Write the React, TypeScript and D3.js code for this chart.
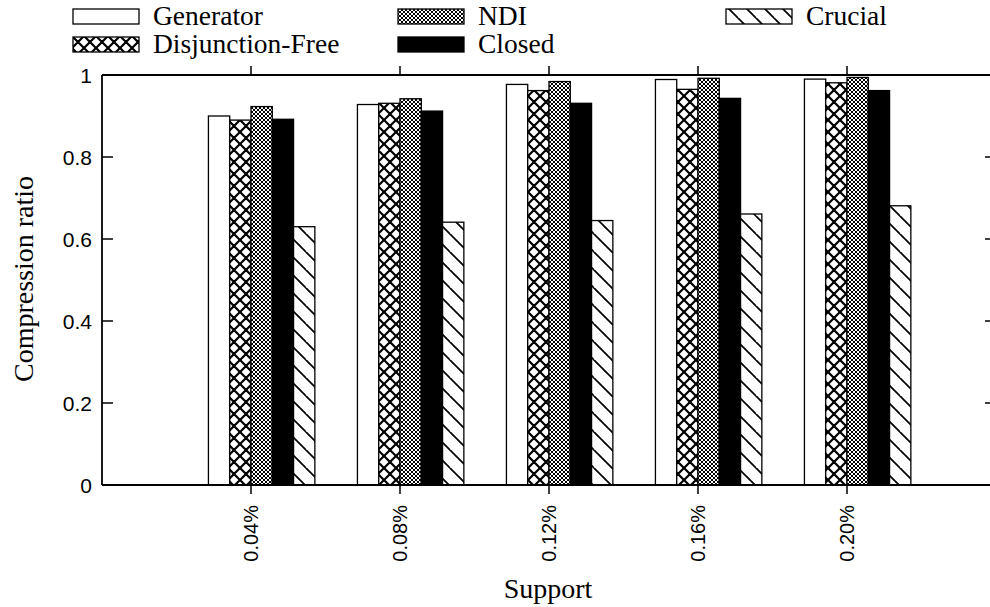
import React from "react";
import * as d3 from "d3";

const categories = ["0.04%", "0.08%", "0.12%", "0.16%", "0.20%"];
const seriesNames = ["Generator", "Disjunction-Free", "NDI", "Closed", "Crucial"];
const generator = [0.9, 0.928, 0.977, 0.989, 0.99];
const disjunctionFree = [0.89, 0.931, 0.962, 0.965, 0.981];
const ndi = [0.923, 0.942, 0.984, 0.992, 0.994];
const closed = [0.892, 0.912, 0.931, 0.943, 0.962];
const crucial = [0.63, 0.641, 0.645, 0.661, 0.681];
const yTicks = [0, 0.2, 0.4, 0.6, 0.8, 1];
const yTickLabels = ["0", "0.2", "0.4", "0.6", "0.8", "1"];

const seriesValues = [generator, disjunctionFree, ndi, closed, crucial];
const fills = ["#ffffff", "url(#pDF)", "url(#pNDI)", "#000000", "url(#pCru)"];

const W = 990;
const H = 607;
const x = d3.scaleLinear().domain([-1, 5]).range([102, 996]);
const y = d3.scaleLinear().domain([0, 1]).range([485, 75]);
const barW = 1 / 7;

const serif = "'Liberation Serif', 'Times New Roman', serif";
const sans = "'Liberation Sans', Arial, sans-serif";

const legendItems = [
  { i: 0, sx: 73, ty: 25 },
  { i: 2, sx: 398, ty: 25 },
  { i: 4, sx: 726, ty: 25 },
  { i: 1, sx: 73, ty: 53 },
  { i: 3, sx: 398, ty: 53 },
];

export default function App() {
  const left = x(-1);
  const right = x(5);
  return (
    <svg
      width={W}
      height={H}
      style={{ position: "absolute", left: 0, top: 0, background: "#fff" }}
    >
      <defs>
        <pattern id="pDF" patternUnits="userSpaceOnUse" width={12} height={12}>
          <rect width={12} height={12} fill="#fff" />
          <path d="M0,0L12,12M12,0L0,12M-6,6L0,12M6,-6L18,6M-6,6L6,-6M6,18L18,6" stroke="#000" strokeWidth={2.2} />
        </pattern>
        <pattern id="pNDI" patternUnits="userSpaceOnUse" width={4} height={4}>
          <rect width={4} height={4} fill="#fff" />
          <path d="M0,0L4,4M4,0L0,4" stroke="#000" strokeWidth={1} />
        </pattern>
        <pattern id="pCru" patternUnits="userSpaceOnUse" width={18} height={18}>
          <rect width={18} height={18} fill="#fff" />
          <path d="M0,0L18,18M-9,9L0,18M9,-9L27,9" stroke="#000" strokeWidth={1.7} />
        </pattern>
      </defs>

      {/* bars */}
      {seriesValues.map((vals, j) =>
        vals.map((v, i) => {
          const x0 = x(i + (j - 2) * barW);
          const x1 = x(i + (j - 1) * barW);
          return (
            <rect
              key={`b-${j}-${i}`}
              x={x0}
              y={y(v)}
              width={x1 - x0}
              height={y(0) - y(v)}
              fill={fills[j]}
              stroke="#000"
              strokeWidth={1.3}
            />
          );
        })
      )}

      {/* frame */}
      <line x1={left} x2={left} y1={y(1)} y2={y(0)} stroke="#000" strokeWidth={1.8} />
      <line x1={left} x2={right} y1={y(0)} y2={y(0)} stroke="#000" strokeWidth={1.8} />
      <line x1={left} x2={right} y1={y(1)} y2={y(1)} stroke="#000" strokeWidth={1.8} />
      <line x1={right} x2={right} y1={y(1)} y2={y(0)} stroke="#000" strokeWidth={1.8} />

      {/* y ticks */}
      {yTicks.map((t, k) => (
        <g key={`yt-${k}`}>
          <line x1={left} x2={left + 11} y1={y(t)} y2={y(t)} stroke="#000" strokeWidth={1.5} />
          <line x1={right - 11} x2={right} y1={y(t)} y2={y(t)} stroke="#000" strokeWidth={1.5} />
          <text
            x={left - 10}
            y={y(t)}
            dy="0.36em"
            textAnchor="end"
            fontFamily={sans}
            fontSize={21}
          >
            {yTickLabels[k]}
          </text>
        </g>
      ))}

      {/* x ticks */}
      {categories.map((c, i) => (
        <g key={`xt-${i}`}>
          <line x1={x(i)} x2={x(i)} y1={y(0)} y2={y(0) + 9} stroke="#000" strokeWidth={1.5} />
          <line x1={x(i)} x2={x(i)} y1={y(1)} y2={y(1) - 9} stroke="#000" strokeWidth={1.5} />
          <text
            transform={`translate(${x(i)},${505}) rotate(-90)`}
            dy="0.36em"
            textAnchor="end"
            fontFamily={sans}
            fontSize={20}
          >
            {c}
          </text>
        </g>
      ))}

      {/* axis titles */}
      <text
        transform={`translate(33,279) rotate(-90)`}
        textAnchor="middle"
        fontFamily={serif}
        fontSize={28}
      >
        Compression ratio
      </text>
      <text x={548} y={598} textAnchor="middle" fontFamily={serif} fontSize={28}>
        Support
      </text>

      {/* legend */}
      {legendItems.map((it) => (
        <g key={`lg-${it.i}`}>
          <rect
            x={it.sx}
            y={it.ty - 16}
            width={66}
            height={15}
            fill={fills[it.i]}
            stroke="#000"
            strokeWidth={1.3}
          />
          <text x={it.sx + 80} y={it.ty} fontFamily={serif} fontSize={27.5}>
            {seriesNames[it.i]}
          </text>
        </g>
      ))}
    </svg>
  );
}
